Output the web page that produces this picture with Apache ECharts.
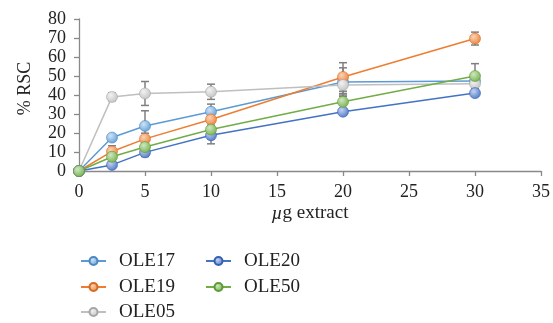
<!DOCTYPE html>
<html>
<head>
<meta charset="utf-8">
<script src="https://cdn.jsdelivr.net/npm/echarts@6/dist/echarts.min.js"></script>
<style>
html,body{margin:0;padding:0;background:#fff;}
#c{width:553px;height:323px;}
</style>
</head>
<body>
<div id="c"></div>
<script>
var xValues = [0, 2.5, 5, 10, 20, 30];
var seriesNames = ['OLE17', 'OLE19', 'OLE05', 'OLE20', 'OLE50'];
var ole17 = [0, 17.6, 23.7, 31.2, 46.8, 47.4];
var ole19 = [0, 10.3, 16.9, 27.1, 49.5, 69.7];
var ole05 = [0, 39.0, 40.8, 41.7, 45.3, 45.9];
var ole20 = [0, 3.2, 9.8, 18.8, 31.2, 41.0];
var ole50 = [0, 7.5, 12.6, 21.8, 36.4, 50.0];
var err17 = [0, 1.5, 8, 4, 7.5, 1];
var err19 = [0, 3, 3, 3, 7.5, 3.4];
var err05 = [0, 2, 6.3, 4, 4.5, 1.5];
var err20 = [0, 1, 2, 4.5, 1.5, 1.5];
var err50 = [0, 1.5, 5, 2, 3.6, 6.5];
var xTicks = [0, 5, 10, 15, 20, 25, 30, 35];
var yTicks = [0, 10, 20, 30, 40, 50, 60, 70, 80];

var values = [ole17, ole19, ole05, ole20, ole50];
var errors = [err17, err19, err05, err20, err50];
var colors = ['#5B9BD5', '#ED7D31', '#BFBFBF', '#4472C4', '#70AD47'];
var lights = ['#cfe3f6', '#fbd3b8', '#f2f2f2', '#c4d3ef', '#cfe7bf'];
var borders = ['#4a88c0', '#d66a20', '#a6a6a6', '#3560b0', '#5c9a36'];
var font = '"Liberation Serif", "DejaVu Serif", serif';

function grad(i) {
  return new echarts.graphic.RadialGradient(0.38, 0.35, 0.75, [
    {offset: 0, color: lights[i]},
    {offset: 1, color: colors[i]}
  ]);
}

var series = [];
for (var i = 0; i < seriesNames.length; i++) {
  var ed = [];
  for (var k = 0; k < xValues.length; k++) {
    if (errors[i][k] > 0) ed.push([xValues[k], values[i][k], errors[i][k]]);
  }
  series.push({
    type: 'custom',
    name: seriesNames[i] + ' err',
    z: 1,
    silent: true,
    data: ed,
    encode: {x: 0, y: 1},
    renderItem: function (params, api) {
      var x = api.value(0), y = api.value(1), e = api.value(2);
      var top = api.coord([x, y + e]);
      var bot = api.coord([x, y - e]);
      var cw = 4;
      var st = {stroke: '#7f7f7f', lineWidth: 1.5};
      return {
        type: 'group',
        children: [
          {type: 'line', shape: {x1: top[0], y1: top[1], x2: bot[0], y2: bot[1]}, style: st},
          {type: 'line', shape: {x1: top[0] - cw, y1: top[1], x2: top[0] + cw, y2: top[1]}, style: st},
          {type: 'line', shape: {x1: bot[0] - cw, y1: bot[1], x2: bot[0] + cw, y2: bot[1]}, style: st}
        ]
      };
    }
  });
}
for (var j = 0; j < seriesNames.length; j++) {
  var d = [];
  for (var m = 0; m < xValues.length; m++) d.push([xValues[m], values[j][m]]);
  series.push({
    type: 'line',
    name: seriesNames[j],
    z: 3,
    data: d,
    symbol: 'circle',
    symbolSize: 11,
    showAllSymbol: true,
    lineStyle: {color: colors[j], width: 1.5},
    itemStyle: {color: grad(j), borderColor: borders[j], borderWidth: 0.6},
    emphasis: {disabled: true},
    animation: false
  });
}

function leg(name, left, top) {
  return {
    orient: 'horizontal',
    left: left, top: top,
    itemWidth: 25,
    itemHeight: 10,
    textStyle: {fontFamily: font, fontSize: 19, color: '#222', lineHeight: 20, padding: [0, 0, 0, 8]},
    selectedMode: false,
    data: [name]
  };
}

var option = {
  animation: false,
  backgroundColor: '#fff',
  grid: {left: 79, right: 11, top: 19, bottom: 152, containLabel: false},
  xAxis: {
    type: 'value',
    min: 0, max: 35, interval: 5,
    name: '{i|µ}g extract',
    nameLocation: 'middle',
    nameGap: 33,
    nameTextStyle: {fontFamily: font, fontSize: 19, color: '#222',
      rich: {i: {fontFamily: font, fontSize: 19, fontStyle: 'italic', color: '#222'}}},
    axisLine: {lineStyle: {color: '#898989', width: 1.3}},
    axisTick: {show: true, length: 5, lineStyle: {color: '#898989', width: 1.3}},
    axisLabel: {fontFamily: font, fontSize: 18, color: '#222', margin: 12,
      formatter: function (v) { return xTicks.indexOf(v) >= 0 ? String(v) : ''; }},
    splitLine: {show: false}
  },
  yAxis: {
    type: 'value',
    min: 0, max: 80, interval: 10,
    name: '% RSC',
    nameLocation: 'middle',
    nameGap: 45,
    nameTextStyle: {fontFamily: font, fontSize: 18, color: '#222', padding: [0, 0, 0, 13]},
    axisLine: {show: true, lineStyle: {color: '#898989', width: 1.3}},
    axisTick: {show: true, length: 5, lineStyle: {color: '#898989', width: 1.3}},
    axisLabel: {fontFamily: font, fontSize: 18, color: '#222', margin: 13,
      formatter: function (v) { return yTicks.indexOf(v) >= 0 ? String(v) : ''; }},
    splitLine: {show: false}
  },
  legend: [
    leg('OLE17', 75, 246),
    leg('OLE19', 75, 272),
    leg('OLE05', 75, 297),
    leg('OLE20', 200, 246),
    leg('OLE50', 200, 272)
  ],
  series: series
};

var chart = echarts.init(document.getElementById('c'), null, {renderer: 'canvas'});
chart.setOption(option);
</script>
</body>
</html>
